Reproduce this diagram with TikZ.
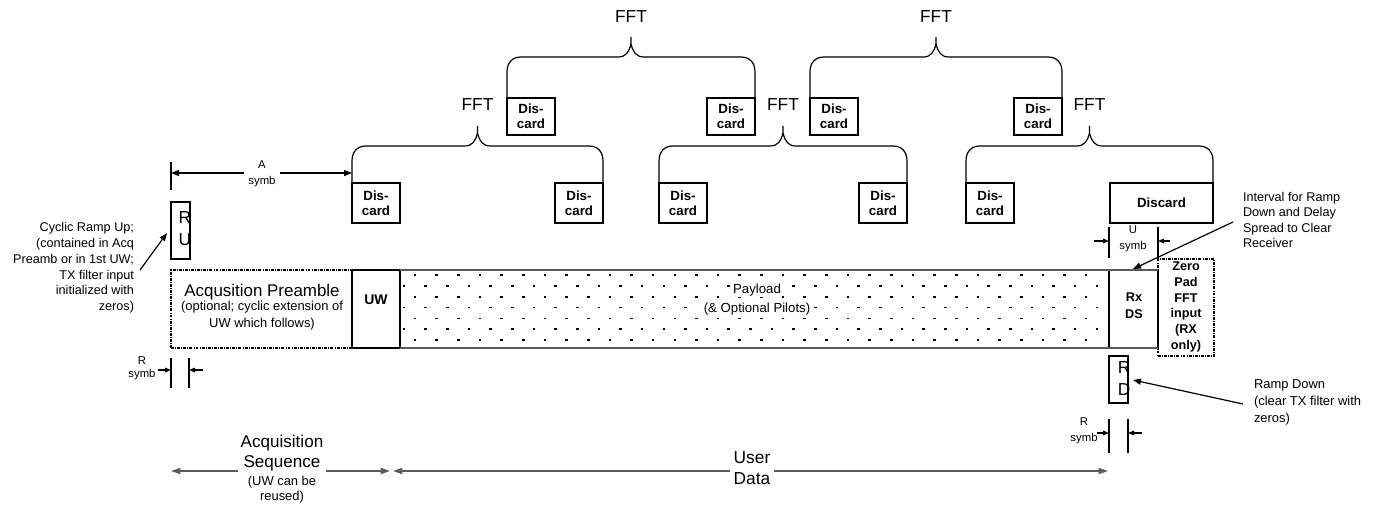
\documentclass[tikz,border=0pt]{standalone}
\usepackage{fontspec}
\setmainfont{Liberation Sans}
\usetikzlibrary{arrows.meta}
\newcommand\fsz[2]{\fontsize{#1pt}{#2pt}\selectfont}
\definecolor{barg}{HTML}{5A5A5A}
% #1 left box, #2 right box, #3 left x, #4 right x, #5 height of the brace line
\newcommand\fftbrace[5]{%
  \draw[brc] (#1.north west) -- (#3,#5+15) .. controls (#3,#5+6) and (#3+5,#5) .. (#3+14,#5)
    -- ({(#3+#4)/2-13},#5) .. controls ({(#3+#4)/2-5},#5) and ({(#3+#4)/2-2},#5-5) .. ({(#3+#4)/2},#5-13)
    -- ({(#3+#4)/2},#5-20);
  \draw[brc] (#2.north east) -- (#4,#5+15) .. controls (#4,#5+6) and (#4-5,#5) .. (#4-14,#5)
    -- ({(#3+#4)/2+13},#5) .. controls ({(#3+#4)/2+5},#5) and ({(#3+#4)/2+2},#5-5) .. ({(#3+#4)/2},#5-13);
}
\begin{document}
\begin{tikzpicture}[x=0.75pt,y=-0.75pt,
  dbox/.style={draw, line width=0.8pt, inner sep=0pt, outer sep=0pt, minimum width=36pt, align=center, font=\bfseries\fsz{10}{10.9}},
  brc/.style={line width=0.9pt, line join=round},
  arr/.style={line width=0.9pt, -{Triangle[length=6pt,width=4.5pt]}},
  sarr/.style={line width=0.8pt, -{Triangle[length=4.5pt,width=3.5pt]}},
  garr/.style={draw=barg, line width=1.2pt, -{Triangle[length=7pt,width=4.5pt]}},
  tk/.style={line width=1.1pt},
  lbl/.style={inner sep=0pt, outer sep=0pt, align=center},
  dashdot/.style={dash pattern=on 2.2pt off 0.9pt on 0.6pt off 0.9pt},
  barline/.style={draw=barg, line width=1.3pt},
  plainbox/.style={draw, line width=0.8pt, inner sep=0pt, outer sep=0pt}
]
\useasboundingbox (0,0) rectangle (1373,506);

% ---------- Discard boxes ----------
\node[dbox, minimum height=27.75pt] (t1) at (531,116.5) {Dis-\\card};
\node[dbox, minimum height=27.75pt] (t2) at (731,116.5) {Dis-\\card};
\node[dbox, minimum height=27.75pt] (t3) at (834,116.5) {Dis-\\card};
\node[dbox, minimum height=27.75pt] (t4) at (1038,116.5) {Dis-\\card};
\node[dbox, minimum height=30pt] (d1) at (376,203) {Dis-\\card};
\node[dbox, minimum height=30pt] (d2) at (579,203) {Dis-\\card};
\node[dbox, minimum height=30pt] (d3) at (683,203) {Dis-\\card};
\node[dbox, minimum height=30pt] (d4) at (883,203) {Dis-\\card};
\node[dbox, minimum height=30pt] (d5) at (990,203) {Dis-\\card};
\node[dbox, minimum height=30pt, minimum width=77.25pt] (d6) at (1161.5,203) {Discard};

% ---------- braces ----------
\fftbrace{t1}{t2}{507}{755}{57}
\fftbrace{t3}{t4}{810}{1062}{57}
\fftbrace{d1}{d2}{352}{603}{146}
\fftbrace{d3}{d4}{659}{907}{146}
\fftbrace{d5}{d6}{966}{1213}{146}

\node[lbl, anchor=base, font=\fsz{13}{15}] (f1) at (631,22.7) {FFT};
\node[lbl, anchor=base, font=\fsz{13}{15}] (f2) at (936,22.7) {FFT};
\node[lbl, anchor=base, font=\fsz{13}{15}] (f3) at (477.5,111) {FFT};
\node[lbl, anchor=base, font=\fsz{13}{15}] (f4) at (783,111) {FFT};
\node[lbl, anchor=base, font=\fsz{13}{15}] (f5) at (1089.5,111) {FFT};

% ---------- A symb ----------
\coordinate (aL) at (171,173);
\coordinate (aR) at (352,173);
\draw[tk] (171,162) -- (171,190);
\node[lbl, inner xsep=3.5pt, font=\fsz{8.5}{12.4}] (asym) at (262,174) {A\\symb};
\draw[arr] (asym.west|-aL) -- (aL);
\draw[arr] (asym.east|-aL) -- (aR);

% ---------- Ramp up ----------
\node[plainbox, minimum width=14.25pt, minimum height=42.75pt] (ru) at (180.5,230.5) {};
\node[lbl, font=\fsz{13}{16.5}] (rut) at (185,229) {R\\U};
\node[lbl, anchor=east, align=right, font=\fsz{9.5}{11.85}] (cyc) at (134,268)
  {Cyclic Ramp Up;\\(contained in Acq\\Preamb or in 1st UW;\\TX filter input\\initialized with\\zeros)};
\coordinate (cycA) at (140,270);
\coordinate (cycB) at (167,233);
\draw[arr] (cycA) -- (cycB);

% ---------- main bar ----------
\node[plainbox, dashdot, minimum width=135.75pt, minimum height=58.5pt] (acq) at (261.5,309) {};
\node[plainbox, minimum width=36pt, minimum height=58.5pt] (uw) at (376,309) {};
\node[inner sep=0pt, outer sep=0pt, minimum width=531.75pt, minimum height=58.5pt] (pay) at (754.5,309) {};
\node[plainbox, minimum width=36.75pt, minimum height=58.5pt] (rx) at (1133.5,309) {};
\node[plainbox, dashdot, minimum width=42pt, minimum height=72.75pt] (zp) at (1186,307.5) {};

% dots of the payload
\foreach \r in {0,...,6}{
  \pgfmathsetmacro\yy{275+\r*10.85}
  \pgfmathsetmacro\xo{isodd(\r) ? 404 : 415}
  \pgfmathtruncatemacro\nk{isodd(\r) ? 32 : 31}
  \foreach \k in {0,...,\nk}{
    \fill ({\xo+\k*21.65-1.3},{\yy-0.8}) rectangle ({\xo+\k*21.65+1.3},{\yy+0.8});
  }
}
\draw[line width=0.8pt] (pay.north west) -- (pay.south west);
\draw[barline] (pay.north west) -- (rx.north east);
\draw[barline] (pay.south west) -- (rx.south east);

\node[lbl, font=\fsz{12.7}{15}] (acqt) at (262,292) {Acqusition Preamble};
\node[lbl, font=\fsz{9.7}{12.75}] (acqsub) at (262,315.5) {(optional; cyclic extension of\\UW which follows)};
\node[lbl, font=\bfseries\fsz{10.5}{12}] (uwt) at (376,300) {UW};
\node[lbl, fill=white, inner sep=0.6pt, font=\fsz{9.9}{12}] (pay1) at (757,290) {Payload};
\node[lbl, fill=white, inner sep=0.6pt, font=\fsz{9.9}{12}] (pay2) at (757,309) {(\& Optional Pilots)};
\node[lbl, font=\bfseries\fsz{9.5}{12.75}] (rxt) at (1134,305.5) {Rx\\DS};
\node[lbl, font=\bfseries\fsz{9.5}{11.85}] (zpt) at (1186,307) {Zero\\Pad\\FFT\\input\\(RX\\only)};

% ---------- U symb ----------
\draw[tk] (1109,227) -- (1109,258);
\draw[tk] (1158,227) -- (1158,258);
\coordinate (uA) at (1094,241);
\coordinate (uB) at (1109,241);
\coordinate (uC) at (1170,241);
\coordinate (uD) at (1158,241);
\draw[sarr] (uA) -- (uB);
\draw[sarr] (uC) -- (uD);
\node[lbl, font=\fsz{8.5}{12}] (usym) at (1133,239) {U\\symb};

% ---------- Interval note ----------
\node[lbl, anchor=west, align=left, font=\fsz{9.5}{11.7}] (intv) at (1243,220)
  {Interval for Ramp\\Down and Delay\\Spread to Clear\\Receiver};
\coordinate (iA) at (1233,222);
\coordinate (iB) at (1133,269);
\draw[arr] (iA) -- (iB);

% ---------- R symb (left) ----------
\draw[tk] (171,358) -- (171,388);
\draw[tk] (189,358) -- (189,388);
\coordinate (rlA) at (158,370);
\coordinate (rlB) at (171,370);
\coordinate (rlC) at (203,370);
\coordinate (rlD) at (189,370);
\draw[sarr] (rlA) -- (rlB);
\draw[sarr] (rlC) -- (rlD);
\node[lbl, font=\fsz{8.5}{9.75}] (rsl) at (142,368.5) {R\\symb};

% ---------- Ramp down ----------
\node[plainbox, minimum width=14.25pt, minimum height=35.25pt] (rd) at (1118.5,379.5) {};
\node[lbl, font=\fsz{13}{16.5}] (rdt) at (1124,379) {R\\D};
\node[lbl, anchor=west, align=left, font=\fsz{9.7}{12.75}] (rdn) at (1254,402)
  {Ramp Down\\(clear TX filter with\\zeros)};
\coordinate (dA) at (1243,404);
\coordinate (dB) at (1133,380);
\draw[arr] (dA) -- (dB);

% ---------- R symb (right) ----------
\draw[tk] (1109,419) -- (1109,453);
\draw[tk] (1128,419) -- (1128,453);
\coordinate (rrA) at (1097,433);
\coordinate (rrB) at (1109,433);
\coordinate (rrC) at (1142,433);
\coordinate (rrD) at (1128,433);
\draw[sarr] (rrA) -- (rrB);
\draw[sarr] (rrC) -- (rrD);
\node[lbl, font=\fsz{8.5}{12}] (rsr) at (1084,431) {R\\symb};

% ---------- sequences ----------
\node[lbl, inner xsep=2pt, font=\fsz{12.8}{15}] (acqs) at (282,453) {Acquisition\\Sequence};
\node[lbl, font=\fsz{9.7}{11.25}] (acqs2) at (282,489.5) {(UW can be\\reused)};
\coordinate (sL) at (171,471);
\coordinate (sR) at (390,471);
\draw[garr] (acqs.west|-sL) -- (sL);
\draw[garr] (acqs.east|-sL) -- (sR);

\node[lbl, inner xsep=3pt, font=\fsz{13}{15.75}] (ud) at (752,468.5) {User\\Data};
\coordinate (uL) at (393,471);
\coordinate (uR) at (1108,471);
\draw[garr] (ud.west|-uL) -- (uL);
\draw[garr] (ud.east|-uL) -- (uR);
\end{tikzpicture}
\end{document}
